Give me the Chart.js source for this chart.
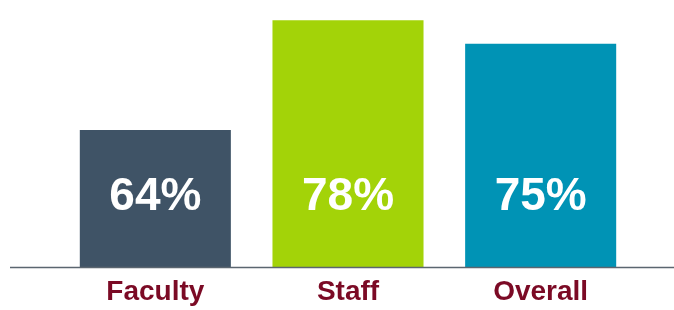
<html>
<head>
  <title>Faculty / Staff / Overall</title>
  <script src="https://cdn.jsdelivr.net/npm/chart.js@4.4.0/dist/chart.umd.min.js"></script>
  <style>
  body {
    margin: 0;
    background: white;
  }
  #wrap {
    width: 674px;
    height: 310px;
    position: relative;
  }
  </style>
</head>
<body>
  <div id="wrap">
    <canvas id="bar-chart"></canvas>
  </div>

  <script>
    var labels = ["Faculty", "Staff", "Overall"];
    var values = [64, 78, 75];
    var barColors = ["#3f5366", "#a3d308", "#0093b5"];

    var fontFam = '"Liberation Sans", Arial, sans-serif';

    // baseline across the whole width, % text inside the bars, category names below
    var barText = {
      id: 'barText',
      afterDatasetsDraw: function(chart) {
        var ctx = chart.ctx;
        var area = chart.chartArea;
        ctx.save();
        ctx.strokeStyle = '#5b6670';
        ctx.lineWidth = 1.5;
        ctx.beginPath();
        ctx.moveTo(10, area.bottom + 0.5);
        ctx.lineTo(674, area.bottom + 0.5);
        ctx.stroke();

        ctx.textAlign = 'center';
        ctx.textBaseline = 'alphabetic';
        var meta = chart.getDatasetMeta(0);
        meta.data.forEach(function(bar, i) {
          ctx.fillStyle = 'white';
          ctx.font = 'bold 46px ' + fontFam;
          ctx.fillText(values[i] + '%', bar.x, area.bottom - 57);

          ctx.fillStyle = '#7b0a25';
          ctx.font = 'bold 28px ' + fontFam;
          ctx.fillText(labels[i], bar.x, area.bottom + 33);
        });
        ctx.restore();
      }
    };

    new Chart(document.getElementById("bar-chart"), {
      type: 'bar',
      data: {
        labels: labels,
        datasets: [{
          data: values,
          backgroundColor: barColors,
          barPercentage: 0.784,
          categoryPercentage: 1.0
        }]
      },
      options: {
        responsive: true,
        maintainAspectRatio: false,
        animation: false,
        layout: {
          padding: { left: 59, right: 37, top: 0, bottom: 43 }
        },
        plugins: {
          legend: { display: false },
          tooltip: { enabled: false }
        },
        scales: {
          x: {
            display: false
          },
          y: {
            display: false,
            min: 46.5,
            max: 80.6
          }
        }
      },
      plugins: [barText]
    });
  </script>
</body>
</html>
